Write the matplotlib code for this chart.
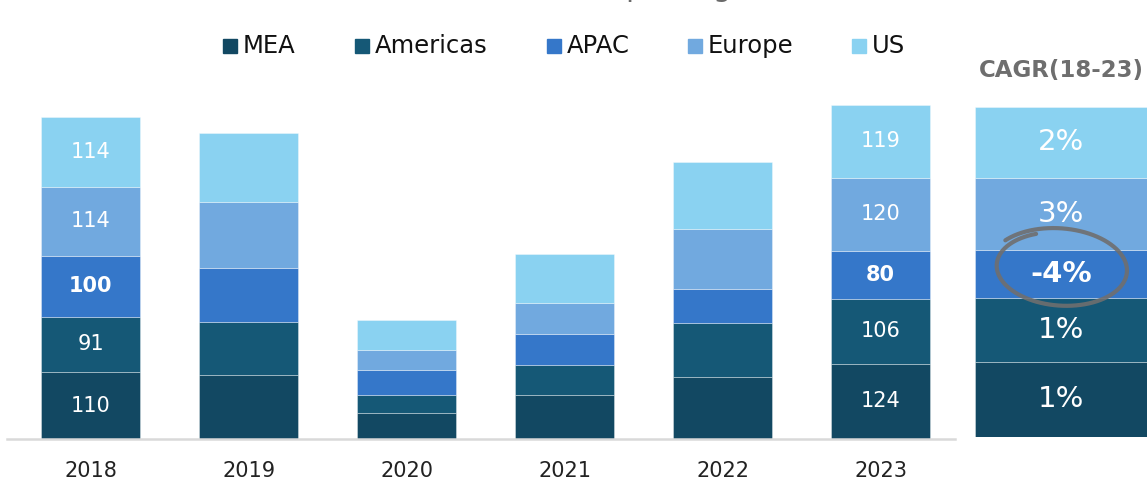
import matplotlib
matplotlib.use("Agg")
import matplotlib.pyplot as plt
import numpy as np
from matplotlib.lines import Line2D
from matplotlib.patches import Rectangle

plt.rcParams["font.family"] = ["DejaVu Sans"]

years = ["2018", "2019", "2020", "2021", "2022", "2023"]
regions = ["MEA", "Americas", "APAC", "Europe", "US"]
mea = [110, 106, 43, 72, 102, 124]
americas = [91, 86, 29, 49, 89, 106]
apac = [100, 90, 42, 51, 55, 80]
europe = [114, 108, 32, 52, 99, 120]
us = [114, 114, 49, 81, 111, 119]
cagr = ["1%", "1%", "-4%", "3%", "2%"]
labelled_years = ["2018", "2023"]

COLORS = ["#124862", "#155876", "#3577C9", "#71A9DF", "#8AD2F1"]
W, H = 1147, 480

fig = plt.figure(figsize=(W / 100, H / 100), dpi=100)
fig.patch.set_facecolor("white")

def px(x, y):
    # figure fraction from pixel position measured from the top-left corner
    return x / W, 1 - y / H

# ---- main stacked bars ----
ax = fig.add_axes([7 / W, 41 / H, 948 / W, 340.5 / H])
ax.set_xlim(-0.53, 5.47)
ax.set_ylim(0, 560)
ax.axis("off")

series = [mea, americas, apac, europe, us]
x = np.arange(len(years))
bottom = np.zeros(len(years))
for vals, col, name in zip(series, COLORS, regions):
    vals = np.array(vals, dtype=float)
    ax.bar(x, vals, bottom=bottom, width=0.627, color=col,
           edgecolor=(1, 1, 1, 0.35), linewidth=0.7)
    for i, yr in enumerate(years):
        if yr in labelled_years:
            bold = name == "APAC"
            ax.text(x[i], bottom[i] + vals[i] / 2, f"{int(vals[i])}",
                    ha="center", va="center", color="white", fontsize=15,
                    fontweight="bold" if bold else "normal")
    bottom += vals

ax.plot([-0.53, 5.47], [0, 0], color="#d9d9d9", lw=1.8, clip_on=False)
for i, yr in enumerate(years):
    ax.text(x[i], -52, yr, ha="center", va="center", fontsize=15,
            color="#222222")

# ---- legend ----
legend_x = [223, 355, 547, 688, 852]
for lx, name, col in zip(legend_x, regions, COLORS):
    fx, fy = px(lx, 53)
    fig.add_artist(Rectangle((fx, fy), 14 / W, 14 / H, color=col,
                             transform=fig.transFigure))
    tx, ty = px(lx + 20, 46)
    fig.text(tx, ty, name, ha="left", va="center", fontsize=17.5,
             color="#111111")

# heading sits mostly above the top edge; only descenders show
fig.text(667 / W, 1 + 3.5 / H, "Revenue per region (bn)", ha="center",
         va="baseline", fontsize=21, color="#6a6a6a")

# ---- CAGR panel ----
cx = fig.add_axes([975 / W, 43.3 / H, 172 / W, 330 / H])
last = [s[-1] for s in series]
cx.set_xlim(-0.5, 0.5)
cx.set_ylim(0, sum(last))
cx.axis("off")
b = 0
for v, col, lab, name in zip(last, COLORS, cagr, regions):
    cx.bar(0, v, bottom=b, width=1.0, color=col,
           edgecolor=(1, 1, 1, 0.35), linewidth=0.7)
    cx.text(0, b + v / 2, lab, ha="center", va="center", color="white",
            fontsize=21, fontweight="bold" if name == "APAC" else "normal")
    b += v

tx, ty = px(1061, 70)
fig.text(tx, ty, "CAGR(18-23)", ha="center", va="center", fontsize=16.5,
         fontweight="bold", color="#6e6e6e")

# hand-drawn ring around the APAC growth figure
t = np.linspace(np.radians(115), np.radians(115) + 2 * np.pi * 1.08, 300)
grow = np.linspace(0.94, 1.06, t.size)
rx, ry = 66 * grow, 38 * grow
rot = np.radians(-4)
ex = rx * np.cos(t)
ey = ry * np.sin(t)
xs = 1060 + ex * np.cos(rot) - ey * np.sin(rot)
ys = 268 - (ex * np.sin(rot) + ey * np.cos(rot))
fig.add_artist(Line2D(xs / W, 1 - ys / H, color="#6f6f6f", lw=3,
                      alpha=0.9, solid_capstyle="round",
                      transform=fig.transFigure))

fig.savefig("out.png", dpi=100, facecolor="white")
